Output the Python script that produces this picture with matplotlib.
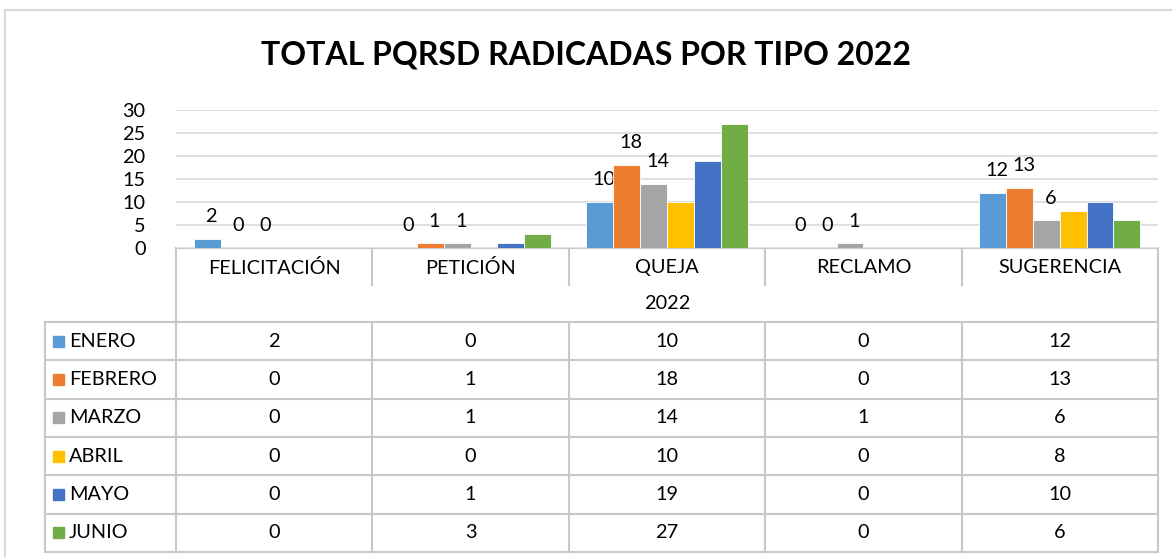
import matplotlib
matplotlib.use("Agg")
import matplotlib.pyplot as plt
import numpy as np

plt.rcParams["font.family"] = ["Lato", "DejaVu Sans"]

categories = ["FELICITACIÓN", "PETICIÓN", "QUEJA", "RECLAMO", "SUGERENCIA"]
months = ["ENERO", "FEBRERO", "MARZO", "ABRIL", "MAYO", "JUNIO"]
enero = [2, 0, 10, 0, 12]
febrero = [0, 1, 18, 0, 13]
marzo = [0, 1, 14, 1, 6]
abril = [0, 0, 10, 0, 8]
mayo = [0, 1, 19, 0, 10]
junio = [0, 3, 27, 0, 6]
year_label = "2022"
title = "TOTAL PQRSD RADICADAS POR TIPO 2022"

series = [enero, febrero, marzo, abril, mayo, junio]
colors = ["#5B9BD5", "#ED7D31", "#A5A5A5", "#FFC000", "#4472C4", "#70AD47"]
labelled = 3  # only the first three series carry data labels
fs = 14.3

W, H = 1172, 557
fig = plt.figure(figsize=(W / 100, H / 100), dpi=100)

# pixel layout
ax_l, ax_r, ax_t, ax_b = 176, 1158, 110, 248
tbl_left = 45
row_h = 38.3
hdr_bot = 285
yr_bot = 322

# background overlay for border + table (pixel coords)
bg = fig.add_axes([0, 0, 1, 1])
bg.set_xlim(0, W)
bg.set_ylim(H, 0)
bg.axis("off")
bg.plot([5, 5], [10, H], color="#d9d9d9", lw=1.5)
bg.plot([5, W], [10, 10], color="#d9d9d9", lw=1.5)

fig.text(0.5, 1 - 55 / H, title, ha="center", va="center",
         fontsize=23, fontweight="bold")

# --- bar chart ---
ax = fig.add_axes([ax_l / W, 1 - ax_b / H, (ax_r - ax_l) / W, (ax_b - ax_t) / H])
n = len(series)
x = np.arange(len(categories))
bw = 0.82 / n
for i, (vals, c) in enumerate(zip(series, colors)):
    pos = x - 0.41 + bw * (i + 0.5)
    ax.bar(pos, vals, width=bw, color=c, edgecolor="white", linewidth=0.6, zorder=3)
    if i < labelled:
        for xp, v in zip(pos, vals):
            ax.annotate(str(v), (xp, v), xytext=(3, 16), textcoords="offset points",
                        ha="center", va="center", fontsize=fs)
ax.set_xlim(-0.5, len(categories) - 0.5)
ax.set_ylim(0, 30)
ax.set_yticks(range(0, 31, 5))
ax.tick_params(axis="y", length=0, labelsize=fs, pad=22)
ax.set_xticks([])
ax.grid(axis="y", color="#d9d9d9", lw=1.2, zorder=0)
for s in ["left", "right", "top", "bottom"]:
    ax.spines[s].set_visible(False)

# --- data table ---
lc = "#c8c8c8"
cw = (ax_r - ax_l) / len(categories)
bot = yr_bot + row_h * len(months)
bg.plot([ax_l, ax_r], [ax_b, ax_b], color=lc, lw=1.5)
bg.plot([ax_l, ax_l], [ax_b, bot], color=lc, lw=1.5)
bg.plot([ax_r, ax_r], [ax_b, bot], color=lc, lw=1.5)
bg.plot([tbl_left, tbl_left], [yr_bot, bot], color=lc, lw=1.5)
for j in range(1, len(categories)):
    xv = ax_l + cw * j
    bg.plot([xv, xv], [ax_b, hdr_bot], color=lc, lw=1.5)
    bg.plot([xv, xv], [yr_bot, bot], color=lc, lw=1.5)
for r in range(len(months) + 1):
    yh = yr_bot + row_h * r
    bg.plot([tbl_left, ax_r], [yh, yh], color=lc, lw=1.5)

for j, cat in enumerate(categories):
    bg.text(ax_l + cw * (j + 0.5), (ax_b + hdr_bot) / 2 + 1, cat,
            ha="center", va="center", fontsize=fs)
bg.text((ax_l + ax_r) / 2, (hdr_bot + yr_bot) / 2, year_label,
        ha="center", va="center", fontsize=fs)

for r, (m, vals, c) in enumerate(zip(months, series, colors)):
    yc = yr_bot + row_h * (r + 0.5)
    bg.add_patch(plt.Rectangle((53, yc - 5.5), 11, 11, color=c))
    bg.text(69, yc, m, ha="left", va="center", fontsize=fs)
    for j, v in enumerate(vals):
        bg.text(ax_l + cw * (j + 0.5), yc, str(v), ha="center", va="center", fontsize=fs)

fig.savefig("out.png", dpi=100)
